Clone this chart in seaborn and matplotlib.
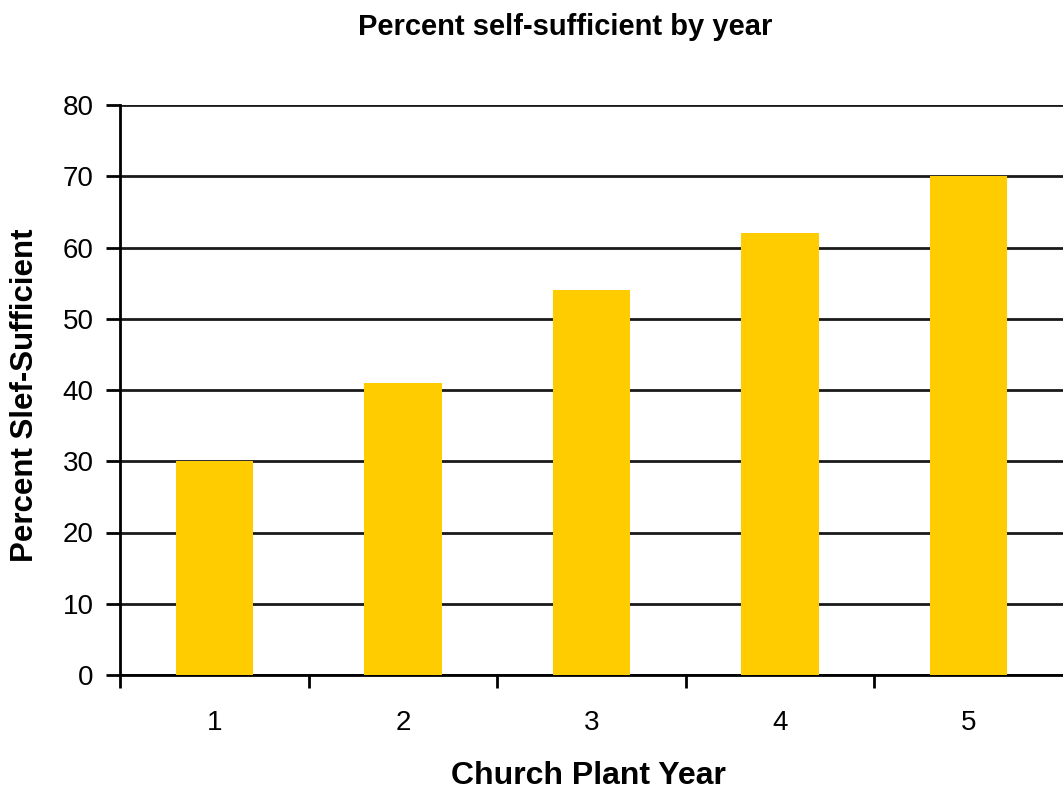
import matplotlib
matplotlib.use("Agg")
import matplotlib.pyplot as plt
import seaborn as sns
import pandas as pd
import numpy as np

years = ["1", "2", "3", "4", "5"]
percent = [30, 41, 54, 62, 70]
yticks = [0, 10, 20, 30, 40, 50, 60, 70, 80]

sns.set_theme(style="white")
plt.rcParams['font.family'] = ['Liberation Sans', 'DejaVu Sans']
plt.rcParams['text.color'] = 'black'
plt.rcParams['axes.labelcolor'] = 'black'
plt.rcParams['xtick.color'] = 'black'
plt.rcParams['ytick.color'] = 'black'

df = pd.DataFrame({"year": years, "percent": percent})

fig = plt.figure(figsize=(10.63, 7.91), dpi=100)
ax = fig.add_axes([120/1063, 1 - 675/791, 1 - 120/1063, (675 - 105)/791])

sns.barplot(data=df, x="year", y="percent", color="#FFCC00", saturation=1,
            width=0.41, ax=ax, zorder=3, linewidth=0)

ax.set_ylim(0, 80)
ax.set_xlim(-0.5, len(years) - 0.5)
ax.set_yticks(yticks)
ax.yaxis.grid(True, color="#1a1a1a", linewidth=2, zorder=0)
ax.set_axisbelow(True)

for s in ["top", "right"]:
    ax.spines[s].set_visible(False)
for s in ["left", "bottom"]:
    ax.spines[s].set_color("black")
    ax.spines[s].set_linewidth(2)

ax.tick_params(axis="y", which="major", direction="out", length=10, width=2,
               color="black", labelsize=20, pad=9, left=True)
ax.tick_params(axis="x", which="major", length=0, labelsize=20, pad=25)
ax.set_xticks(np.arange(-0.5, len(years) - 0.5, 1.0), minor=True)
ax.tick_params(axis="x", which="minor", direction="out", length=9, width=2,
               color="black", bottom=True)

ax.set_xlabel("Church Plant Year", fontsize=23, fontweight="bold")
ax.xaxis.label.set_va("center")
ax.xaxis.set_label_coords((588 - 120) / 943, (675 - 776) / 570)
ax.set_ylabel("Percent Slef-Sufficient", fontsize=22.5, fontweight="bold")
ax.yaxis.label.set_va("center")
ax.yaxis.set_label_coords((25 - 120) / 943, (675 - 395) / 570)
fig.text(565 / 1063, 1 - 27 / 791, "Percent self-sufficient by year",
         ha="center", va="center", fontsize=21, fontweight="bold")

fig.savefig("out.png", dpi=100)
